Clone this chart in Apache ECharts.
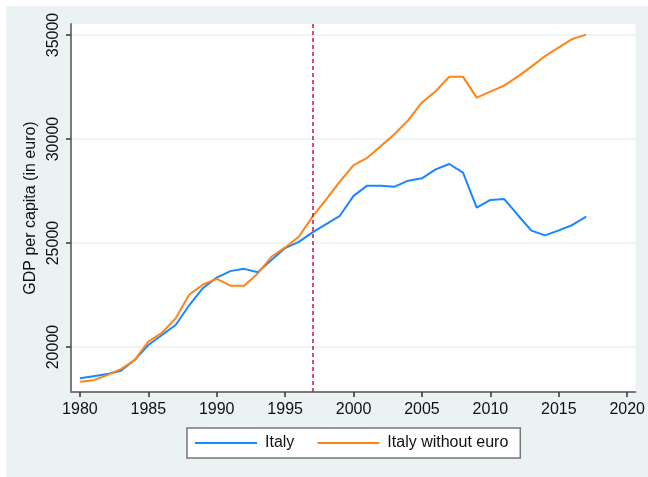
<!DOCTYPE html>
<html>
<head>
<meta charset="utf-8">
<script src="https://cdn.jsdelivr.net/npm/echarts@6/dist/echarts.min.js"></script>
<style>
  html, body { margin: 0; padding: 0; background: #ffffff; }
  #chart { position: absolute; left: 6px; top: 6px; width: 642px; height: 471px; }
</style>
</head>
<body>
<div id="chart"></div>
<script>
// years on the x axis
const years = [1980, 1981, 1982, 1983, 1984, 1985, 1986, 1987, 1988, 1989,
  1990, 1991, 1992, 1993, 1994, 1995, 1996, 1997, 1998, 1999,
  2000, 2001, 2002, 2003, 2004, 2005, 2006, 2007, 2008, 2009,
  2010, 2011, 2012, 2013, 2014, 2015, 2016, 2017];

// GDP per capita, Italy (actual)
const italy = [18500, 18600, 18700, 18860, 19375, 20100, 20580, 21060, 22020, 22840,
  23340, 23650, 23760, 23600, 24180, 24760, 25060, 25510, 25910, 26310,
  27270, 27760, 27760, 27710, 28000, 28110, 28540, 28800, 28390, 26700,
  27070, 27120, 26350, 25600, 25370, 25610, 25870, 26270];

// GDP per capita, Italy without euro (counterfactual)
const noEuro = [18330, 18410, 18650, 18940, 19375, 20260, 20690, 21380, 22530, 23010,
  23280, 22950, 22950, 23540, 24340, 24790, 25300, 26270, 27100, 27950,
  28750, 29100, 29660, 30240, 30910, 31760, 32300, 33000, 33000, 31990,
  32280, 32570, 33000, 33480, 33990, 34410, 34810, 35020];

const xTicks = [1980, 1985, 1990, 1995, 2000, 2005, 2010, 2015, 2020];
const yTicks = [20000, 25000, 30000, 35000];
const euroYear = 1997;

const chart = echarts.init(document.getElementById('chart'));

const font = 'Liberation Sans, Arial, sans-serif';

const option = {
  backgroundColor: '#EAF2F3',
  animation: false,
  textStyle: { fontFamily: font },
  grid: {
    left: 65,
    right: 8,
    top: 18,
    bottom: 85,
    show: true,
    backgroundColor: '#ffffff',
    borderWidth: 0
  },
  xAxis: {
    type: 'value',
    min: 1979.35,
    max: 2020.6,
    axisLine: { show: true, onZero: false, lineStyle: { color: '#7a7a7a', width: 2 } },
    axisTick: { show: true, length: 5, customValues: xTicks, lineStyle: { color: '#333', width: 1.5 } },
    axisLabel: {
      customValues: xTicks,
      formatter: v => String(v),
      margin: 10,
      fontSize: 16,
      color: '#111',
      fontFamily: font
    },
    splitLine: { show: false }
  },
  yAxis: {
    type: 'value',
    min: 17840,
    max: 35530,
    name: 'GDP per capita (in euro)',
    nameLocation: 'middle',
    nameRotate: 90,
    nameGap: 29,
    nameTextStyle: { fontSize: 16, color: '#111', fontFamily: font },
    axisLine: { show: true, onZero: false, lineStyle: { color: '#7a7a7a', width: 2 } },
    axisTick: { show: true, length: 5, customValues: yTicks, lineStyle: { color: '#333', width: 1.5 } },
    axisLabel: {
      customValues: yTicks,
      formatter: v => String(v),
      rotate: 90,
      margin: 9,
      fontSize: 16,
      color: '#111',
      fontFamily: font
    },
    splitLine: { show: true, lineStyle: { color: '#EAF2F3', width: 1.5 } }
  },
  legend: {
    left: 181,
    top: 422,
    data: ['Italy', 'Italy without euro'],
    backgroundColor: '#ffffff',
    borderColor: '#777777',
    borderWidth: 1.5,
    borderRadius: 0,
    padding: [7, 12, 7, 7],
    itemWidth: 62,
    itemHeight: 15,
    itemGap: 22,
    itemStyle: { opacity: 0 },
    textStyle: { fontSize: 16, color: '#111', fontFamily: font, padding: [0, 0, 0, 3] }
  },
  series: [
    {
      name: 'Italy',
      type: 'line',
      data: years.map((y, i) => [y, italy[i]]),
      symbol: 'none',
      clip: false,
      lineStyle: { color: '#1A86FF', width: 2 },
      itemStyle: { color: '#1A86FF' },
      markLine: {
        silent: true,
        symbol: 'none',
        label: { show: false },
        lineStyle: { color: '#C8163F', width: 1.5, type: [4, 3] },
        data: [{ xAxis: euroYear }]
      }
    },
    {
      name: 'Italy without euro',
      type: 'line',
      data: years.map((y, i) => [y, noEuro[i]]),
      symbol: 'none',
      clip: false,
      lineStyle: { color: '#FF8418', width: 2 },
      itemStyle: { color: '#FF8418' }
    }
  ]
};

chart.setOption(option);
</script>
</body>
</html>
